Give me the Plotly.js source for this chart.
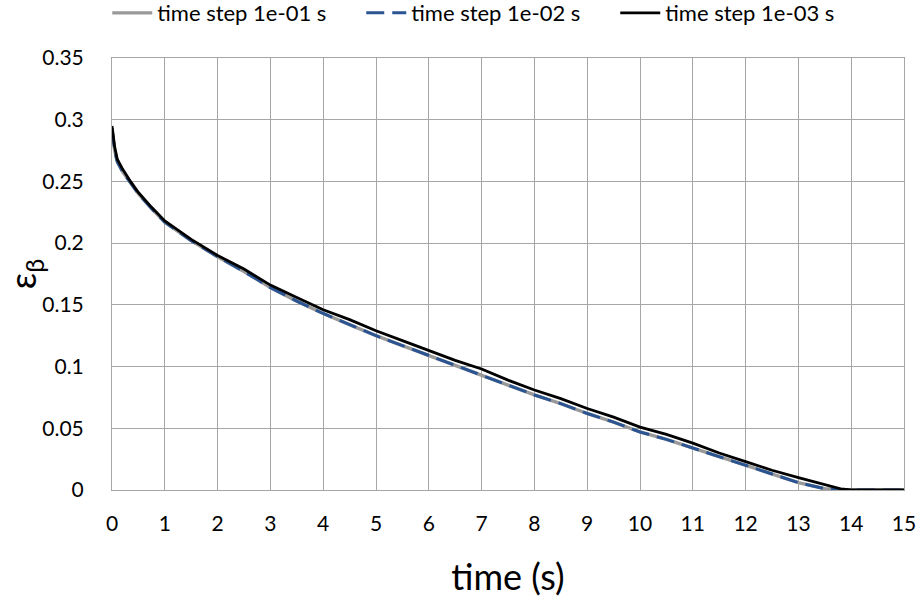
<!DOCTYPE html>
<html><head><meta charset="utf-8">
<script src="https://cdn.plot.ly/plotly-3.0.1.min.js"></script>
<style>body{margin:0;background:#fff}#chart{width:918px;height:601px}</style>
</head><body><div id="chart"></div>
<script>
const timeFine = [0, 0.05, 0.1, 0.2, 0.35, 0.5, 0.75, 1, 1.5, 2, 2.5, 3, 3.5, 4, 4.5, 5, 5.5, 6, 6.5, 7, 7.5, 8, 8.5, 9, 9.5, 10, 10.5, 11, 11.5, 12, 12.5, 13, 13.5, 13.8, 14, 14.5, 15];
const eps1e03 = [0.295, 0.278, 0.268, 0.260, 0.250, 0.241, 0.229, 0.218, 0.203, 0.190, 0.179, 0.166, 0.156, 0.146, 0.138, 0.129, 0.121, 0.113, 0.105, 0.098, 0.089, 0.081, 0.074, 0.066, 0.059, 0.051, 0.045, 0.038, 0.030, 0.023, 0.016, 0.010, 0.004, 0.001, 0.000, 0.000, 0.000];
const eps1e02 = [0.293, 0.275, 0.266, 0.258, 0.249, 0.240, 0.228, 0.217, 0.202, 0.189, 0.177, 0.164, 0.153, 0.143, 0.134, 0.125, 0.117, 0.109, 0.101, 0.093, 0.085, 0.077, 0.070, 0.062, 0.055, 0.047, 0.041, 0.034, 0.027, 0.020, 0.013, 0.006, 0.001, 0.000, 0.000, 0.000, 0.000];
const eps1e01 = [0.293, 0.275, 0.266, 0.258, 0.249, 0.240, 0.228, 0.217, 0.202, 0.189, 0.177, 0.164, 0.153, 0.143, 0.134, 0.125, 0.117, 0.109, 0.101, 0.093, 0.085, 0.077, 0.070, 0.062, 0.055, 0.047, 0.041, 0.034, 0.027, 0.020, 0.013, 0.006, 0.001, 0.000, 0.000, 0.000, 0.000];
const seriesNames = ['time step 1e-01 s', 'time step 1e-02 s', 'time step 1e-03 s'];

const traces = [
  {x: timeFine, y: eps1e01, name: seriesNames[0], mode: 'lines', line: {color: '#999999', width: 3.4}},
  {x: timeFine, y: eps1e02, name: seriesNames[1], mode: 'lines', line: {color: '#2B5592', width: 3, dash: '18px,8px'}},
  {x: timeFine, y: eps1e03, name: seriesNames[2], mode: 'lines', line: {color: '#000000', width: 2.8}}
];
const font = 'Lato, "Open Sans", sans-serif';
const layout = {
  width: 918, height: 601,
  margin: {l: 112, r: 14, t: 58, b: 111, autoexpand: false},
  paper_bgcolor: '#fff', plot_bgcolor: '#fff',
  font: {family: font, color: '#000', size: 21},
  showlegend: true,
  legend: {orientation: 'h', x: -0.006, xanchor: 'left', y: 1.104, yanchor: 'middle', font: {size: 22}, itemwidth: 40, tracegroupgap: 0, entrywidth: 199, entrywidthmode: 'pixels', bgcolor: 'rgba(0,0,0,0)'},
  xaxis: {range: [0, 15], dtick: 1, tick0: 0, showgrid: true, gridcolor: '#a6a6a6', gridwidth: 1,
    showline: true, linecolor: '#a6a6a6', mirror: true, zeroline: false, ticks: 'outside', ticklen: 15, tickcolor: 'rgba(0,0,0,0)',
    title: {text: 'time (s)', font: {size: 36}, standoff: 30}, tickfont: {size: 21}},
  yaxis: {range: [0, 0.35], dtick: 0.05, tick0: 0, showgrid: true, gridcolor: '#a6a6a6', gridwidth: 1,
    showline: true, linecolor: '#a6a6a6', mirror: true, zeroline: false, ticks: 'outside', ticklen: 23, tickcolor: 'rgba(0,0,0,0)',
    title: {text: 'ε<sub>β</sub>', font: {size: 36}, standoff: 10}, tickfont: {size: 21}}
};
Plotly.newPlot('chart', traces, layout, {displayModeBar: false, staticPlot: true});
</script></body></html>
